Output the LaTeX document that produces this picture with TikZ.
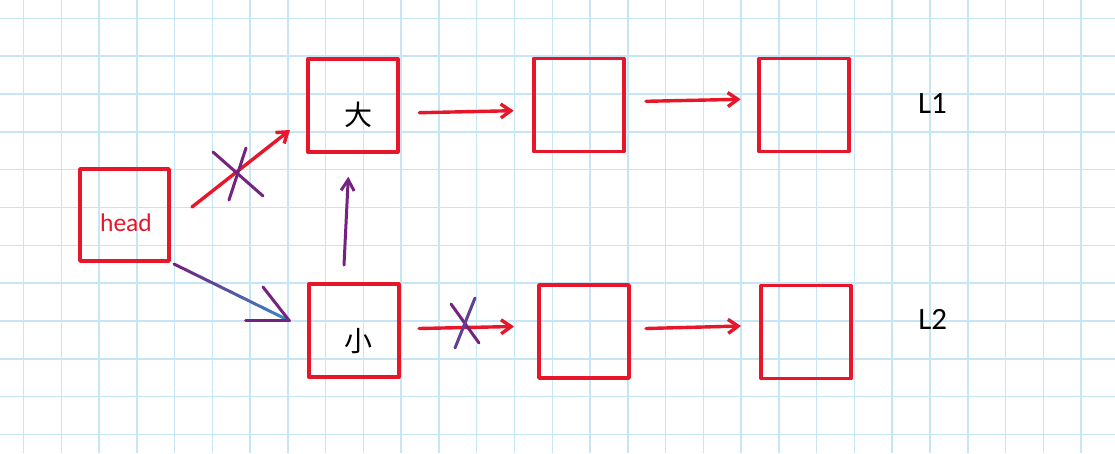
\documentclass[tikz,border=0pt]{standalone}
\usepackage{fontspec}
\setmainfont{Carlito}
\newfontfamily\cjk{Noto Sans CJK SC}
\usetikzlibrary{arrows.meta,calc}
\definecolor{myred}{RGB}{232,22,42}
\definecolor{mypurple}{RGB}{115,36,128}
\definecolor{myblue}{RGB}{50,145,200}
\definecolor{gridblue}{RGB}{198,230,248}
\tikzset{
  gridline/.style={draw=gridblue, line width=1.5pt},
  box/.style={draw=myred, line width=3.6pt, minimum width=90pt, minimum height=93pt, inner sep=0pt, line join=round},
  redarrow/.style={draw=myred, line width=3.4pt, line cap=round, -{Straight Barb[length=10pt,width=14pt]}},
  purplearrow/.style={draw=mypurple, line width=3pt, line cap=round, -{Straight Barb[length=11pt,width=13pt]}},
  purpleline/.style={draw=mypurple, line width=3pt, line cap=round},
  cross/.style={draw=mypurple, line width=3pt, line cap=round},
  lbl/.style={inner sep=0pt, anchor=base},
}
\begin{document}
\begin{tikzpicture}[x=1pt,y=-1pt]
\useasboundingbox (0,0) rectangle (1115,453);
\fill[white] (0,0) rectangle (1115,453);
% grid
\foreach \i in {0,...,28} \draw[gridline] ({23.5+37.77*\i},0) -- ({23.5+37.77*\i},453);
\foreach \j in {0,...,11} \draw[gridline] (0,{18.3+37.83*\j}) -- (1115,{18.3+37.83*\j});

% boxes
\node[box, minimum width=89pt, minimum height=92pt] (head) at (124.5,215) {};
\node[box] (big) at (352.8,105.3) {};
\node[box] (t2) at (578.8,105) {};
\node[box] (t3) at (804,105) {};
\node[box] (small) at (353.8,330.7) {};
\node[box] (b2) at (584,331.5) {};
\node[box] (b3) at (806,332) {};

% labels
\node[lbl, text=myred, font=\fontsize{25.5}{30}\selectfont] (headtxt) at (126,231.7) {head};
\node[lbl, font=\cjk\fontsize{28}{32}\selectfont] (bigtxt) at (358,125) {大};
\node[lbl, font=\cjk\fontsize{28}{32}\selectfont] (smalltxt) at (358,351) {小};
\node[lbl, font=\fontsize{31}{36}\selectfont] (L1) at (932.5,113) {L1};
\node[lbl, font=\fontsize{31}{36}\selectfont] (L2) at (932.7,329) {L2};

% connector end points
\coordinate (hA) at (192,207);
\coordinate (bigIn) at (290,130);
\coordinate (bigOut) at (419.3,112.7);
\coordinate (t2In) at (513.7,110.7);
\coordinate (t2Out) at (646,101.3);
\coordinate (t3In) at (740.7,99.3);
\coordinate (smOut) at (419,328.5);
\coordinate (b2In) at (514,326.5);
\coordinate (b2Out) at (646,328.5);
\coordinate (b3In) at (741,326);
\coordinate (smUp) at (344,265);
\coordinate (bigBelow) at (348.3,176.7);
\coordinate (hB) at (174,264);
\coordinate (smIn) at (289.3,320.7);
\coordinate (barbA) at (263,287);
\coordinate (barbB) at (245.7,320.7);

% red arrows
\draw[redarrow] (hA) -- (bigIn);
\draw[redarrow] (bigOut) -- (t2In);
\draw[redarrow] (t2Out) -- (t3In);
\draw[redarrow] (smOut) -- (b2In);
\draw[redarrow] (b2Out) -- (b3In);

% purple arrow up
\draw[purplearrow] (smUp) -- (bigBelow);

% head -> small, gradient purple to blue
\foreach \k in {0,...,9} {
  \pgfmathsetmacro{\pa}{\k/10}
  \pgfmathsetmacro{\pb}{(\k+1)/10}
  \pgfmathtruncatemacro{\mix}{\k*10}
  \draw[draw=myblue!\mix!mypurple, line width=3pt, line cap=round] ($(hB)!\pa!(smIn)$) -- ($(hB)!\pb!(smIn)$);
}
\draw[purpleline] (barbA) -- (smIn);
\draw[purpleline] (barbB) -- (smIn);

% crosses
\coordinate (x1a) at (213,152);
\coordinate (x1b) at (263,196);
\coordinate (x1c) at (246,148);
\coordinate (x1d) at (229,200);
\draw[cross] (x1a) -- (x1b);
\draw[cross] (x1c) -- (x1d);
\coordinate (x2a) at (451,304);
\coordinate (x2b) at (479,343);
\coordinate (x2c) at (475,298);
\coordinate (x2d) at (455,348);
\draw[cross] (x2a) -- (x2b);
\draw[cross, draw=mypurple!75!myblue] (x2c) -- (x2d);
\end{tikzpicture}
\end{document}
